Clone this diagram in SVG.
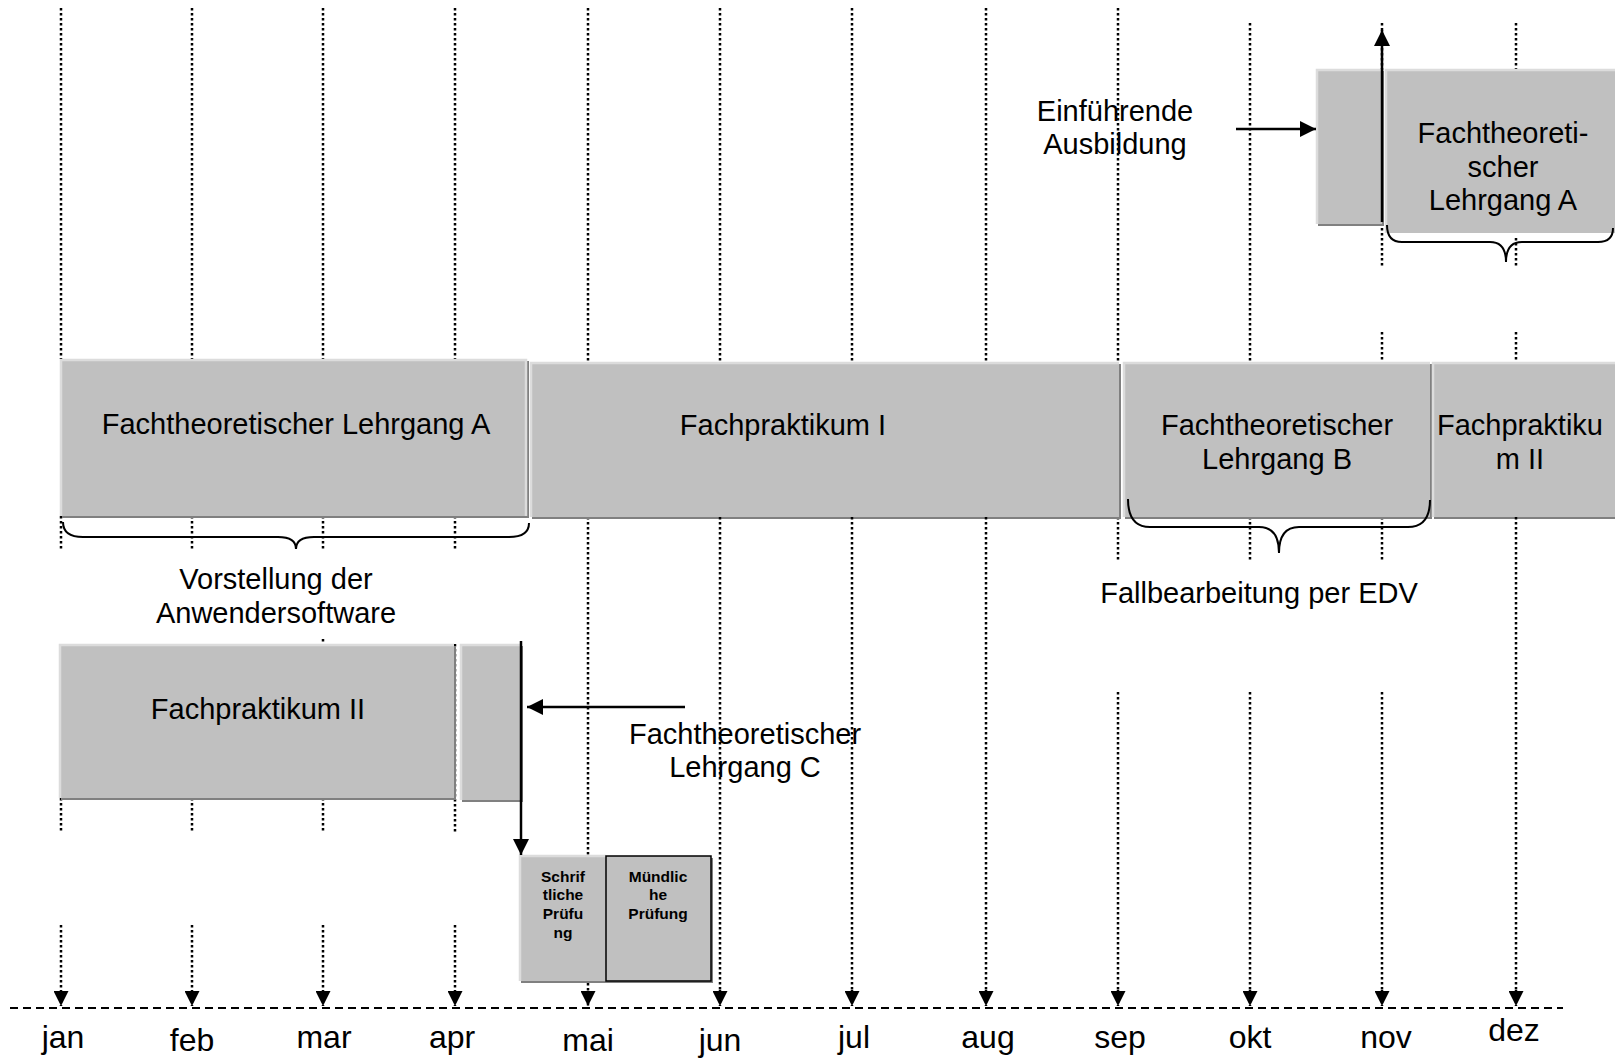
<svg xmlns="http://www.w3.org/2000/svg" width="1615" height="1058" viewBox="0 0 1615 1058">
<defs>
<style>
.dot{stroke:#000;stroke-width:2.5;stroke-dasharray:2.5 2.5;fill:none}
.axis{stroke:#000;stroke-width:2;stroke-dasharray:8 5;fill:none}
.box{fill:#c0c0c0}
.sh{fill:#808080}
.hl{stroke:#dcdcdc;stroke-width:2.5;fill:none}
.brace{stroke:#000;stroke-width:2;fill:none}
.ln{stroke:#000;stroke-width:2.5;fill:none}
.t{font-family:"Liberation Sans",Arial,sans-serif;font-size:29px;fill:#000;text-anchor:middle}
.m{font-family:"Liberation Sans",Arial,sans-serif;font-size:32px;fill:#000;text-anchor:middle}
.b{font-family:"Liberation Sans",Arial,sans-serif;font-size:15.5px;font-weight:bold;fill:#000;text-anchor:middle}
</style>
<marker id="ah" viewBox="0 0 10 10" refX="10" refY="5" markerWidth="7" markerHeight="6.4" markerUnits="strokeWidth" orient="auto">
<path d="M0 0L10 5L0 10z" fill="#000"/>
</marker>
<marker id="ahs" viewBox="0 0 10 10" refX="10" refY="5" markerWidth="6.4" markerHeight="6" markerUnits="strokeWidth" orient="auto">
<path d="M0 0L10 5L0 10z" fill="#000"/>
</marker>
</defs>
<rect width="1615" height="1058" fill="#fff"/>

<g id="grid">
<path class="dot" d="M61 8V359M61 516V550M61 798V832"/>
<path class="dot" d="M192 8V359M192 516V550M192 798V832"/>
<path class="dot" d="M323 8V359M323 516V550M323 639V646M323 798V832"/>
<path class="dot" d="M455 8V359M455 516V550M455 644V832"/>
<path class="dot" d="M588 8V362M588 517V855"/>
<path class="dot" d="M720 8V362"/>
<path class="dot" d="M852 8V362"/>
<path class="dot" d="M986 8V362"/>
<path class="dot" d="M1118 8V362M1118 517V562"/>
<path class="dot" d="M1250 23V362M1250 517V562"/>
<path class="dot" d="M1382 23V268M1382 332V362M1382 517V562"/>
<path class="dot" d="M1516 23V69M1516 238V268M1516 332V362"/>
<path class="axis" d="M10 1008H1563"/>
</g>

<g id="n-einf">
<rect class="sh" x="1318" y="71" width="66" height="155"/>
<rect class="box" x="1316" y="69" width="66" height="155"/>
<path class="hl" d="M1317 224V70H1382"/>
</g>
<g id="n-ftA-top">
<rect class="box" x="1385" y="69" width="232" height="164"/>
<path class="hl" d="M1386 233V70H1615"/>
<text class="t" x="1503" y="143">Fachtheoreti-</text>
<text class="t" x="1503" y="177">scher</text>
<text class="t" x="1503" y="210">Lehrgang A</text>
</g>
<g id="n-ftA">
<rect class="sh" x="62" y="361" width="467" height="157"/>
<rect class="box" x="60" y="359" width="467" height="157"/>
<path class="hl" d="M61 516V360H526V516"/>
<text class="t" x="296" y="434">Fachtheoretischer Lehrgang A</text>
</g>
<g id="n-fp1">
<rect class="sh" x="532" y="364" width="589" height="155"/>
<rect class="box" x="530" y="362" width="589" height="155"/>
<path class="hl" d="M531 517V363H1119"/>
<text class="t" x="783" y="435">Fachpraktikum I</text>
</g>
<g id="n-ftB">
<rect class="sh" x="1125" y="364" width="307" height="155"/>
<rect class="box" x="1123" y="362" width="307" height="155"/>
<path class="hl" d="M1124 517V363H1430"/>
<text class="t" x="1277" y="435">Fachtheoretischer</text>
<text class="t" x="1277" y="469">Lehrgang B</text>
</g>
<g id="n-fp2-top">
<rect class="sh" x="1434" y="364" width="185" height="155"/>
<rect class="box" x="1432" y="362" width="185" height="155"/>
<path class="hl" d="M1433 517V363H1615"/>
<text class="t" x="1520" y="435">Fachpraktiku</text>
<text class="t" x="1520" y="469">m II</text>
</g>
<g id="n-fp2">
<rect class="sh" x="61" y="646" width="395" height="154"/>
<rect class="box" x="59" y="644" width="395" height="154"/>
<path class="hl" d="M60 798V645H454"/>
<text class="t" x="258" y="719">Fachpraktikum II</text>
</g>
<g id="n-ftC">
<rect class="sh" x="462" y="646" width="61" height="156"/>
<rect class="box" x="460" y="644" width="61" height="156"/>
<path class="hl" d="M461 800V645H521"/>
</g>
<g id="n-schr">
<rect class="sh" x="521" y="857" width="87" height="126"/>
<rect class="box" x="519" y="855" width="87" height="126"/>
<path class="hl" d="M520 981V856H606"/>
<text class="b" x="563" y="882">Schrif</text>
<text class="b" x="563" y="900">tliche</text>
<text class="b" x="563" y="919">Prüfu</text>
<text class="b" x="563" y="938">ng</text>
</g>
<g id="n-muend">
<rect class="sh" x="608" y="858" width="105" height="125"/>
<rect class="box" x="606" y="856" width="105" height="125" stroke="#000" stroke-width="1.5"/>
<text class="b" x="658" y="882">Mündlic</text>
<text class="b" x="658" y="900">he</text>
<text class="b" x="658" y="919">Prüfung</text>
</g>

<g id="grid-lower">
<path class="dot" d="M720 517V992M852 517V992M986 517V992M1516 517V992"/>
<path class="dot" d="M1118 692V992M1250 692V992M1382 692V992"/>
</g>

<g id="braces">
<path class="brace" d="M63 522Q63 537 83 537L278 537Q296 537 296 549Q296 537 314 537L509 537Q529 537 529 523"/>
<path class="brace" d="M1128 499Q1128 527 1150 527L1259 527Q1279 527 1279 553Q1279 527 1299 527L1408 527Q1430 527 1430 500"/>
<path class="brace" d="M1387 225Q1387 242 1402 242L1490 242Q1506 242 1506 262Q1506 242 1522 242L1598 242Q1613 242 1613 228"/>
</g>

<g id="labels">
<text class="t" x="1115" y="121">Einführende</text>
<text class="t" x="1115" y="154">Ausbildung</text>
<text class="t" x="276" y="589">Vorstellung der</text>
<text class="t" x="276" y="623">Anwendersoftware</text>
<text class="t" x="1259" y="603">Fallbearbeitung per EDV</text>
<text class="t" x="745" y="744">Fachtheoretischer</text>
<text class="t" x="745" y="777">Lehrgang C</text>
</g>

<g id="connectors">
<line class="ln" x1="1236" y1="129" x2="1316" y2="129" marker-end="url(#ah)"/>
<line class="ln" x1="1382" y1="222" x2="1382" y2="30" marker-end="url(#ah)"/>
<line class="ln" x1="685" y1="707" x2="527" y2="707" marker-end="url(#ah)"/>
<line class="ln" x1="521" y1="641" x2="521" y2="855" marker-end="url(#ah)"/>
<g>
<line class="dot" x1="61" y1="925" x2="61" y2="1006" marker-end="url(#ahs)"/>
<line class="dot" x1="192" y1="925" x2="192" y2="1006" marker-end="url(#ahs)"/>
<line class="dot" x1="323" y1="925" x2="323" y2="1006" marker-end="url(#ahs)"/>
<line class="dot" x1="455" y1="925" x2="455" y2="1006" marker-end="url(#ahs)"/>
<line class="dot" x1="588" y1="983" x2="588" y2="1006" marker-end="url(#ahs)"/>
<line class="dot" x1="720" y1="990" x2="720" y2="1006" marker-end="url(#ahs)"/>
<line class="dot" x1="852" y1="990" x2="852" y2="1006" marker-end="url(#ahs)"/>
<line class="dot" x1="986" y1="990" x2="986" y2="1006" marker-end="url(#ahs)"/>
<line class="dot" x1="1118" y1="990" x2="1118" y2="1006" marker-end="url(#ahs)"/>
<line class="dot" x1="1250" y1="990" x2="1250" y2="1006" marker-end="url(#ahs)"/>
<line class="dot" x1="1382" y1="990" x2="1382" y2="1006" marker-end="url(#ahs)"/>
<line class="dot" x1="1516" y1="990" x2="1516" y2="1006" marker-end="url(#ahs)"/>
</g>
</g>

<g id="months">
<text class="m" x="63" y="1048">jan</text>
<text class="m" x="192" y="1051">feb</text>
<text class="m" x="324" y="1048">mar</text>
<text class="m" x="452" y="1048">apr</text>
<text class="m" x="588" y="1051">mai</text>
<text class="m" x="720" y="1051">jun</text>
<text class="m" x="854" y="1048">jul</text>
<text class="m" x="988" y="1048">aug</text>
<text class="m" x="1120" y="1048">sep</text>
<text class="m" x="1250" y="1048">okt</text>
<text class="m" x="1386" y="1048">nov</text>
<text class="m" x="1514" y="1041">dez</text>
</g>
</svg>
